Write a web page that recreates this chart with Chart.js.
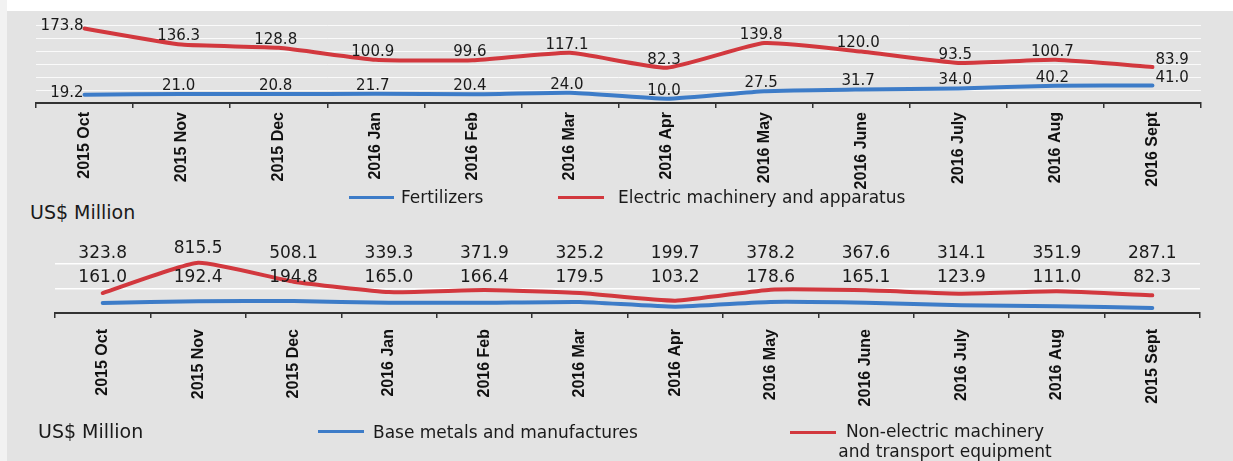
<!DOCTYPE html>
<html>
<head>
<meta charset="utf-8">
<script src="https://cdn.jsdelivr.net/npm/chart.js@4.4.1/dist/chart.umd.min.js"></script>
<style>
  html, body { margin:0; padding:0; }
  body { width:1233px; height:461px; overflow:hidden; background:#e3e3e3; position:relative; font-family:"DejaVu Sans", sans-serif; color:#1a1a1a; }
  .strip-top { position:absolute; left:0; top:0; width:1233px; height:11px; background:#ffffff; }
  .strip-left { position:absolute; left:0; top:0; width:7px; height:461px; background:#f2f2f2; }
  .box { position:absolute; left:0; width:1233px; }
  .txt { position:absolute; white-space:nowrap; line-height:20px; }
  .unit { font-size:19px; }
  .leg { font-size:17px; }
  .sw { position:absolute; height:3px; }
</style>
</head>
<body>
<div class="strip-top"></div>
<div class="strip-left"></div>
<div class="box" style="top:0;height:190px;"><canvas id="top"></canvas></div>
<div class="box" style="top:225px;height:236px;"><canvas id="bottom"></canvas></div>

<div class="sw" style="left:349px;top:196px;width:45px;background:#3d7cc8;"></div>
<div class="txt leg" style="left:401px;top:187px;">Fertilizers</div>
<div class="sw" style="left:558px;top:196px;width:46px;background:#d2383e;"></div>
<div class="txt leg" style="left:618px;top:187px;">Electric machinery and apparatus</div>
<div class="txt unit" style="left:30px;top:202px;">US$ Million</div>

<div class="txt unit" style="left:38px;top:421px;">US$ Million</div>
<div class="sw" style="left:318px;top:430px;width:46px;background:#3d7cc8;"></div>
<div class="txt leg" style="left:373px;top:422px;">Base metals and manufactures</div>
<div class="sw" style="left:790px;top:431px;width:46px;background:#d2383e;"></div>
<div class="txt leg" style="left:834px;top:421px;width:222px;text-align:center;">Non-electric machinery<br>and transport equipment</div>

<script>
const monthsTop = ['2015 Oct','2015 Nov','2015 Dec','2016 Jan','2016 Feb','2016 Mar','2016 Apr','2016 May','2016 June','2016 July','2016 Aug','2016 Sept'];
const monthsBottom = ['2015 Oct','2015 Nov','2015 Dec','2016 Jan','2016 Feb','2016 Mar','2016 Apr','2016 May','2016 June','2016 July','2016 Aug','2015 Sept'];
const fertilizers = [19.2,21.0,20.8,21.7,20.4,24.0,10.0,27.5,31.7,34.0,40.2,41.0];
const electricMachinery = [173.8,136.3,128.8,100.9,99.6,117.1,82.3,139.8,120.0,93.5,100.7,83.9];
const baseMetals = [161.0,192.4,194.8,165.0,166.4,179.5,103.2,178.6,165.1,123.9,111.0,82.3];
const nonElectricMachinery = [323.8,815.5,508.1,339.3,371.9,325.2,199.7,378.2,367.6,314.1,351.9,287.1];
const topAxisMax = 210, topAxisStep = 30;
const bottomAxisMax = 1200, bottomAxisStep = 400;

const BLUE = '#3d7cc8', RED = '#d2383e';

const valueLabels = {
  id: 'valueLabels',
  afterDatasetsDraw(chart, args, opts) {
    const ctx = chart.ctx;
    ctx.save();
    ctx.font = opts.font;
    ctx.fillStyle = opts.color;
    ctx.textBaseline = 'middle';
    chart.data.datasets.forEach((ds, di) => {
      const meta = chart.getDatasetMeta(di);
      const n = meta.data.length;
      meta.data.forEach((pt, i) => {
        const txt = Number(ds.data[i]).toFixed(1);
        let x = pt.x, y, align = 'center';
        if (opts.mode === 'point') {
          if (i === 0) { align = 'right'; x = pt.x - 1; y = pt.y - 2; }
          else if (i === n - 1) { align = 'left'; x = pt.x + 3; y = pt.y - 7; }
          else { x = pt.x - 3; y = pt.y - 8; }
        } else {
          const row = chart.chartArea.top + opts.rows[di];
          y = Math.min(row, pt.y - 14);
        }
        ctx.textAlign = align;
        ctx.fillText(txt, x, y);
      });
    });
    ctx.restore();
  }
};

function makeOptions(cfg) {
  return {
    responsive: true,
    maintainAspectRatio: false,
    animation: false,
    layout: { padding: cfg.padding },
    plugins: {
      legend: { display: false },
      tooltip: { enabled: false },
      valueLabels: cfg.labels
    },
    scales: {
      x: {
        offset: true,
        grid: { offset: true, drawOnChartArea: false, drawTicks: true, tickLength: 5, color: '#333', lineWidth: 1.5 },
        border: { color: '#333', width: 2 },
        ticks: { autoSkip: false, minRotation: 90, maxRotation: 90, padding: cfg.tickPad, color: '#111',
                 font: { family: 'Liberation Sans', weight: 'bold', size: 16 } },
        afterFit(s) { s.height = cfg.xHeight; }
      },
      y: {
        min: 0, max: cfg.max,
        ticks: { display: false, stepSize: cfg.step },
        grid: {
          color: (c) => (c.tick && c.tick.value >= cfg.max) ? 'rgba(0,0,0,0)' : cfg.gridColor,
          lineWidth: cfg.gridWidth, drawTicks: false
        },
        border: { display: false },
        afterFit(s) { s.width = 0; }
      }
    }
  };
}

function lineDs(label, data, color) {
  return { label, data, borderColor: color, backgroundColor: color, borderWidth: 4,
           pointRadius: 0, tension: 0.15, borderCapStyle: 'round', borderJoinStyle: 'round', fill: false };
}

new Chart(document.getElementById('top'), {
  type: 'line',
  data: {
    labels: monthsTop,
    datasets: [
      lineDs('Fertilizers', fertilizers, BLUE),
      lineDs('Electric machinery and apparatus', electricMachinery, RED)
    ]
  },
  options: makeOptions({
    padding: { left: 36, right: 32, top: 13, bottom: 0 },
    max: topAxisMax, step: topAxisStep, xHeight: 87, tickPad: 4,
    gridColor: 'rgba(255,255,255,0.8)', gridWidth: 1,
    labels: { mode: 'point', font: '15px "DejaVu Sans"', color: '#1a1a1a' }
  }),
  plugins: [valueLabels]
});

new Chart(document.getElementById('bottom'), {
  type: 'line',
  data: {
    labels: monthsBottom,
    datasets: [
      lineDs('Base metals and manufactures', baseMetals, BLUE),
      lineDs('Non-electric machinery and transport equipment', nonElectricMachinery, RED)
    ]
  },
  options: makeOptions({
    padding: { left: 55, right: 33, top: 14, bottom: 0 },
    max: bottomAxisMax, step: bottomAxisStep, xHeight: 148, tickPad: 11,
    gridColor: 'rgba(255,255,255,0.95)', gridWidth: 1.5,
    labels: { mode: 'row', rows: [39, 15], font: '17px "DejaVu Sans"', color: '#1a1a1a' }
  }),
  plugins: [valueLabels]
});
</script>
</body>
</html>
